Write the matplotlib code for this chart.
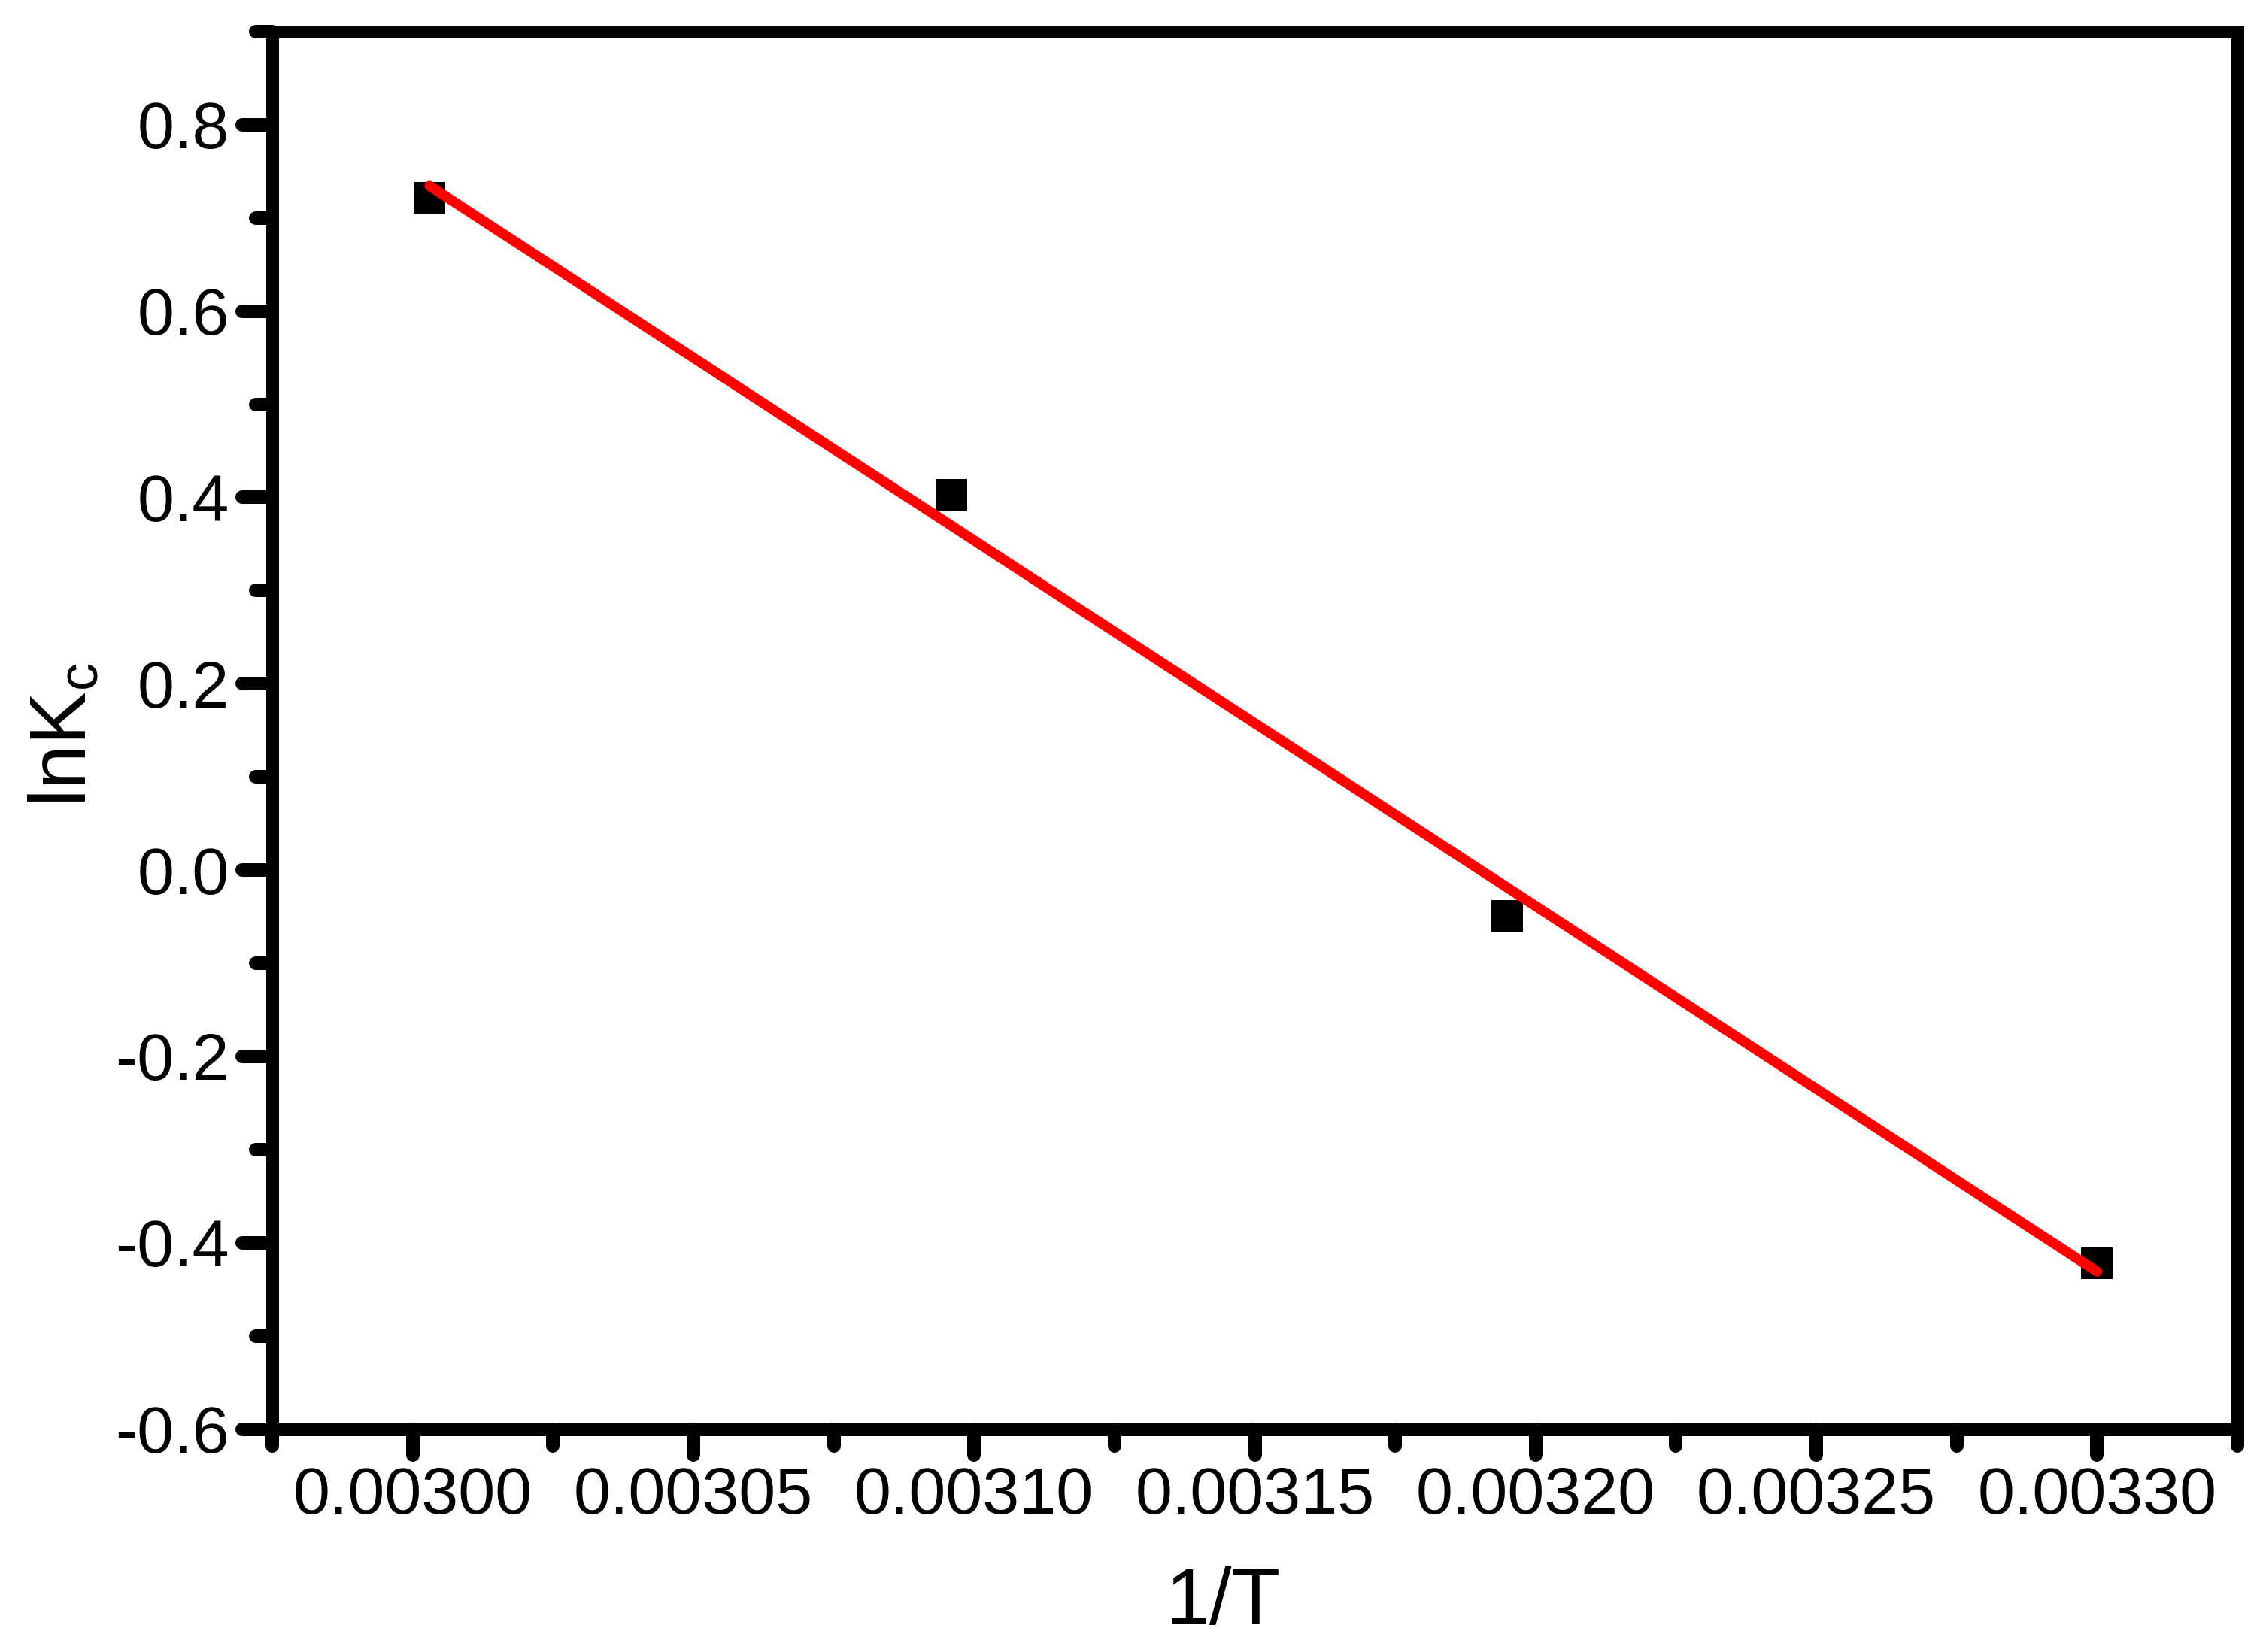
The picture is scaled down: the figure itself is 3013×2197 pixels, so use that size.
import numpy as np
import matplotlib
matplotlib.use("Agg")
import matplotlib.pyplot as plt
from matplotlib.ticker import MultipleLocator, FormatStrFormatter
from matplotlib.markers import MarkerStyle

plt.rcParams['font.family'] = ['Liberation Sans', 'DejaVu Sans']
plt.rcParams['mathtext.fontset'] = 'custom'
plt.rcParams['mathtext.rm'] = 'Liberation Sans'

# data
inv_T = [0.003003, 0.003096, 0.003195, 0.003300]
lnKc = [0.722, 0.403, -0.049, -0.422]

x_label = "1/T"
y_label = r"$\mathregular{lnK_c}$"

W, H = 3013, 2197
DPI = 100
fig = plt.figure(figsize=(W / DPI, H / DPI), dpi=DPI)
px = 72.0 / DPI  # points per pixel

L, R, T, B = 362, 2975, 42, 1900.5
ax = fig.add_axes([L / W, 1 - B / H, (R - L) / W, (B - T) / H])

x = np.array(inv_T)
y = np.array(lnKc)
ax.plot(x, y, linestyle='none', marker='s', markersize=42 * px,
        markerfacecolor='black', markeredgewidth=0, zorder=3)

slope, intercept = np.polyfit(x, y, 1)
xf = np.array([x.min(), x.max()])
ax.plot(xf, slope * xf + intercept, color='#ff0000', linewidth=13.5 * px,
        solid_capstyle='round', zorder=4)

ax.set_xlim(0.002975, 0.003325)
ax.set_ylim(-0.6, 0.9)
ax.xaxis.set_major_locator(MultipleLocator(0.00005))
ax.xaxis.set_minor_locator(MultipleLocator(0.000025))
ax.yaxis.set_major_locator(MultipleLocator(0.2))
ax.yaxis.set_minor_locator(MultipleLocator(0.1))
ax.xaxis.set_major_formatter(FormatStrFormatter('%.5f'))
ax.yaxis.set_major_formatter(FormatStrFormatter('%.1f'))

lw = 17 * px
for s in ax.spines.values():
    s.set_linewidth(lw)
    s.set_capstyle('projecting')

fs = 88 * px
ax.tick_params(axis='both', which='both', direction='out', width=18 * px,
               top=False, right=False, labelsize=fs, colors='black')
ax.tick_params(axis='x', which='major', length=34 * px, pad=15 * px)
ax.tick_params(axis='x', which='minor', length=22 * px)
ax.tick_params(axis='y', which='major', length=40 * px, pad=17 * px)
ax.tick_params(axis='y', which='minor', length=22 * px)

# round tick ends
for axis in (ax.xaxis, ax.yaxis):
    for ticks in (axis.get_major_ticks(), axis.get_minor_ticks()):
        for t in ticks:
            m = t.tick1line.get_marker()
            t.tick1line.set_marker(MarkerStyle(m, capstyle='round'))

lab_fs = 106 * px
fig.text(1626 / W, 37 / H, x_label, ha='center', va='baseline', fontsize=lab_fs)
fig.text(115 / W, 1 - 977 / H, y_label, rotation=90, rotation_mode='anchor',
         ha='center', va='baseline', fontsize=lab_fs)

fig.savefig('out.png', dpi=DPI, facecolor='white')
